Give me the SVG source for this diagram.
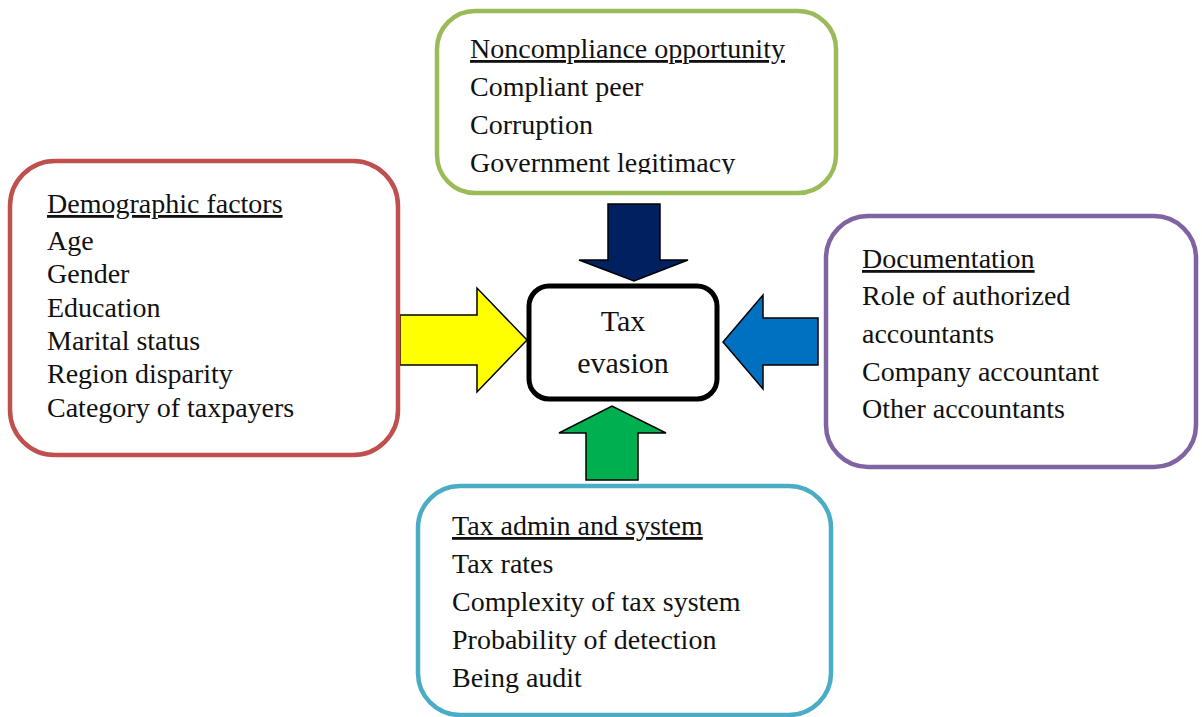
<svg xmlns="http://www.w3.org/2000/svg" width="1202" height="717" viewBox="0 0 1202 717">
<style>
.box{fill:#fff;stroke-width:4.5}
.t{font-family:'Liberation Serif','DejaVu Serif',serif;font-size:28px;fill:#111}
.h{text-decoration:underline}
.arr{stroke:#000;stroke-width:1.5;stroke-linejoin:miter}
</style>
<defs>
<clipPath id="gclip"><rect x="440" y="12" width="395" height="162"/></clipPath>
</defs>
<rect width="1202" height="717" fill="#fff"/>
<g id="connectors">
<polygon class="arr" fill="#FFFF00" points="400,315 477,315 477,288 527,340 477,392 477,365 400,365"/>
<polygon class="arr" fill="#002060" points="608,204 660,204 660,260 688,260 634,281 579,260 608,260"/>
<polygon class="arr" fill="#0070C0" points="818,318 763,318 763,295 723,342 763,389 763,365 818,365"/>
<polygon class="arr" fill="#00B050" points="586,480 638,480 638,433 666,433 612,406 559,433 586,433"/>
</g>
<g id="center">
<rect x="529" y="286" width="188" height="113" rx="20" fill="#fff" stroke="#000" stroke-width="5"/>
<text class="t" style="font-size:30px" x="623" y="331" text-anchor="middle">Tax</text>
<text class="t" style="font-size:30px" x="623" y="373" text-anchor="middle">evasion</text>
</g>
<g id="demographic">
<rect class="box" x="10" y="161" width="388" height="294" rx="45" stroke="#C0504D"/>
<text class="t h" x="47" y="213">Demographic factors</text>
<text class="t" x="47" y="250">Age</text>
<text class="t" x="47" y="283">Gender</text>
<text class="t" x="47" y="317">Education</text>
<text class="t" x="47" y="350">Marital status</text>
<text class="t" x="47" y="383">Region disparity</text>
<text class="t" x="47" y="417">Category of taxpayers</text>
</g>
<g id="noncompliance">
<rect class="box" x="437" y="11" width="399" height="182" rx="38" stroke="#9BBB59"/>
<g clip-path="url(#gclip)">
<text class="t h" x="470" y="58">Noncompliance opportunity</text>
<text class="t" x="470" y="96">Compliant peer</text>
<text class="t" x="470" y="134">Corruption</text>
<text class="t" x="470" y="172">Government legitimacy</text>
</g>
</g>
<g id="documentation">
<rect class="box" x="826" y="216" width="370" height="251" rx="42" stroke="#8064A2"/>
<text class="t h" x="862" y="268">Documentation</text>
<text class="t" x="862" y="305">Role of authorized</text>
<text class="t" x="862" y="343">accountants</text>
<text class="t" x="862" y="381">Company accountant</text>
<text class="t" x="862" y="418">Other accountants</text>
</g>
<g id="taxadmin">
<rect class="box" x="418" y="486" width="413" height="229" rx="42" stroke="#4BACC6"/>
<text class="t h" x="452" y="535">Tax admin and system</text>
<text class="t" x="452" y="573">Tax rates</text>
<text class="t" x="452" y="611">Complexity of tax system</text>
<text class="t" x="452" y="649">Probability of detection</text>
<text class="t" x="452" y="687">Being audit</text>
</g>
</svg>
